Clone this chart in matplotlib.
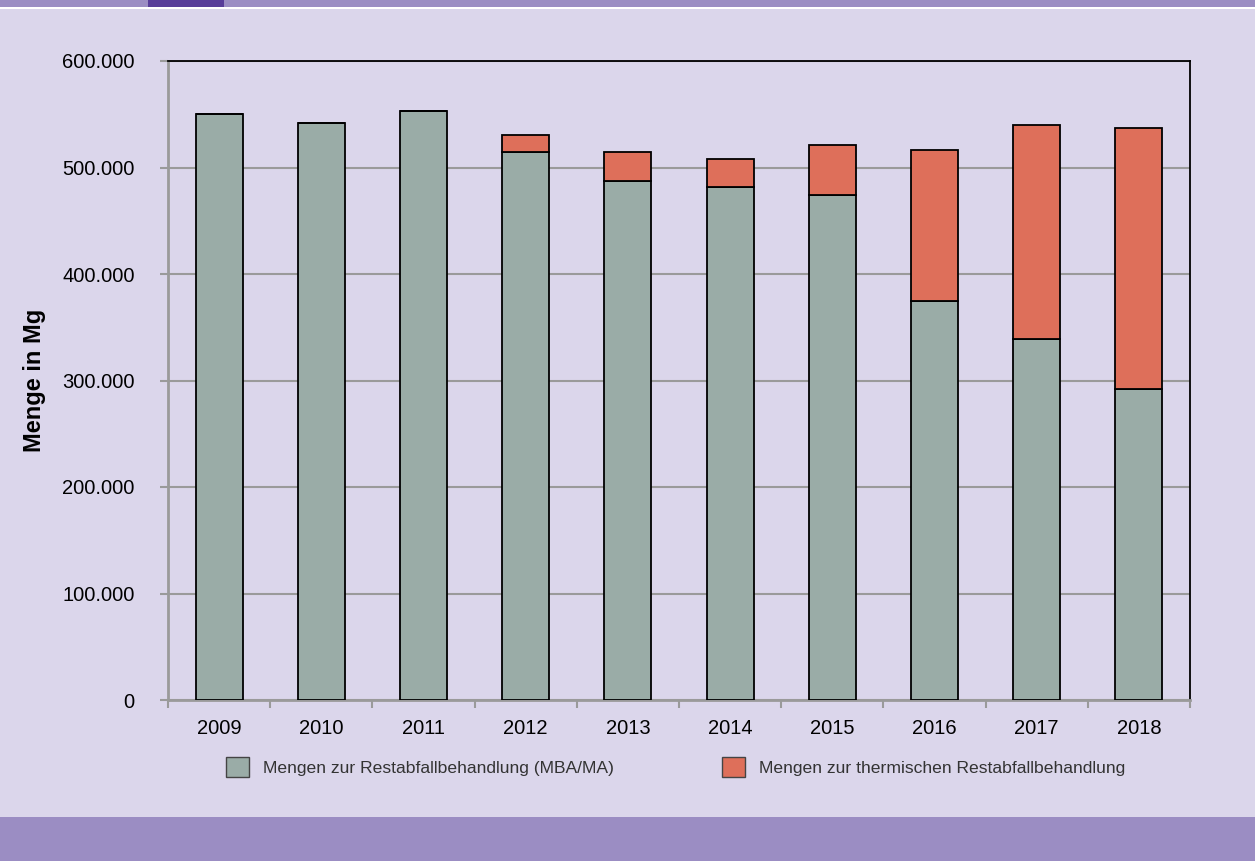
import numpy as np
import matplotlib.pyplot as plt
from matplotlib.patches import Patch, Rectangle

# data (Mg)
years = ['2009', '2010', '2011', '2012', '2013', '2014', '2015', '2016', '2017', '2018']
mba = [550000, 541800, 553100, 514300, 487300, 482000, 473900, 374200, 338800, 291800]
thermisch = [0, 0, 0, 16200, 27300, 26000, 47200, 142000, 201500, 245300]
yticks = [0, 100000, 200000, 300000, 400000, 500000, 600000]
ytick_labels = ['0', '100.000', '200.000', '300.000', '400.000', '500.000', '600.000']
legend_labels = ['Mengen zur Restabfallbehandlung (MBA/MA)',
                 'Mengen zur thermischen Restabfallbehandlung']

bg = '#dbd6eb'
band = '#9b8dc3'
green = '#9aaca7'
orange = '#de6f5a'

plt.rcParams['font.family'] = ['Liberation Sans', 'DejaVu Sans']

fig = plt.figure(figsize=(12.55, 8.61), dpi=100, facecolor=bg)

# purple bands top and bottom
fig.patches.append(Rectangle((0, 1 - 7 / 861), 1, 7 / 861, transform=fig.transFigure,
                             facecolor=band, edgecolor='none', zorder=0))
fig.patches.append(Rectangle((0, 1 - 9 / 861), 1, 2 / 861, transform=fig.transFigure,
                             facecolor='white', edgecolor='none', zorder=0))
fig.patches.append(Rectangle((148 / 1255, 1 - 7 / 861), 76 / 1255, 7 / 861,
                             transform=fig.transFigure, facecolor='#583d99',
                             edgecolor='none', zorder=1))
fig.patches.append(Rectangle((0, 0), 1, 44 / 861, transform=fig.transFigure,
                             facecolor=band, edgecolor='none', zorder=0))

ax = fig.add_axes([168 / 1255, 161 / 861, 1022 / 1255, 639 / 861])
ax.set_facecolor(bg)

x = np.arange(len(years))
ax.bar(x, mba, width=0.46, color=green, edgecolor='black', linewidth=1.3, zorder=3)
ax.bar(x, thermisch, width=0.46, bottom=mba, color=orange, edgecolor='black',
       linewidth=1.3, zorder=3)

ax.set_xlim(-0.5, len(years) - 0.5)
ax.set_ylim(0, 600000)
ax.set_yticks(yticks)
ax.set_yticklabels(ytick_labels, fontsize=14.5)
ax.yaxis.grid(True, color='#9a9a9a', linewidth=1.5, zorder=0)
ax.set_axisbelow(True)

ax.set_xticks(x)
ax.set_xticklabels(years, fontsize=14.5)
ax.set_xticks(np.arange(-0.5, len(years)), minor=True)
ax.tick_params(axis='x', which='major', length=0, pad=14)
ax.tick_params(axis='x', which='minor', length=6, color='#9a9a9a', width=1.5)
ax.tick_params(axis='y', length=6, color='#9a9a9a', width=1.5, pad=18)

for side in ['left', 'bottom']:
    ax.spines[side].set_color('#9a9a9a')
    ax.spines[side].set_linewidth(2)
for side in ['top', 'right']:
    ax.spines[side].set_color('black')
    ax.spines[side].set_linewidth(1.3)

ax.set_ylabel('Menge in Mg', fontsize=17, fontweight='bold', labelpad=12)

# legend, one entry per position
h1 = Patch(facecolor=green, edgecolor='#444444')
h2 = Patch(facecolor=orange, edgecolor='#444444')
for h, lab, xpos in [(h1, legend_labels[0], 217 / 1255), (h2, legend_labels[1], 713 / 1255)]:
    leg = fig.legend([h], [lab], loc='center left', bbox_to_anchor=(xpos, 1 - 767 / 861),
                     frameon=False, fontsize=12.6, handlelength=1.35, handleheight=1.35,
                     handletextpad=0.8, borderpad=0)
    for t in leg.get_texts():
        t.set_color('#333333')

fig.savefig('out.png', dpi=100, facecolor=bg)
